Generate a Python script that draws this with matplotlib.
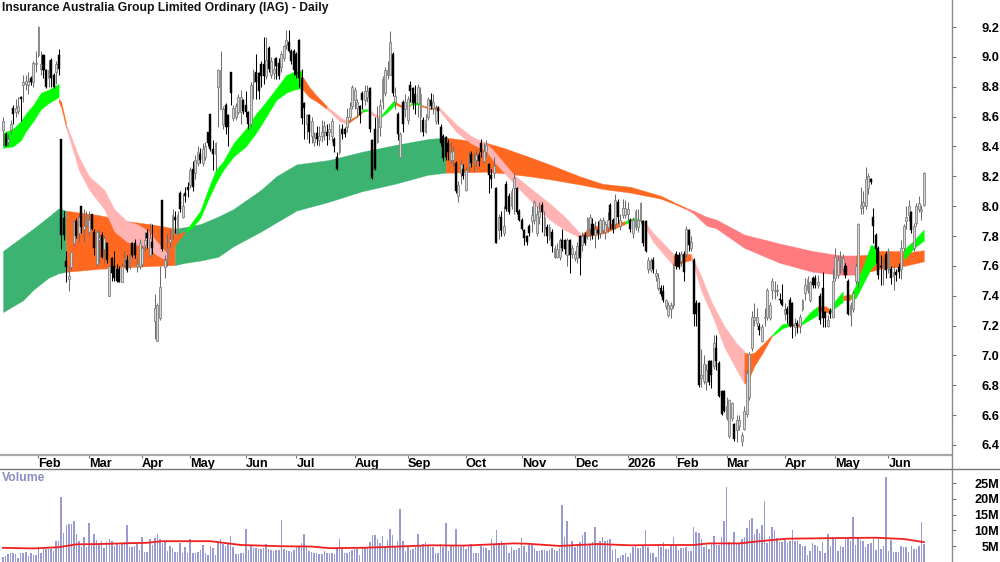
#!/usr/bin/env python3
"""Daily candlestick chart for IAG with MMA ribbons and a volume panel."""

import matplotlib
matplotlib.use('Agg')
import matplotlib.pyplot as plt
from matplotlib.lines import Line2D
import numpy as np

plt.rcParams['font.family'] = ['Liberation Sans', 'DejaVu Sans']

TITLE = 'Insurance Australia Group Limited Ordinary (IAG) - Daily'

month_labels = ['Feb', 'Mar', 'Apr', 'May', 'Jun', 'Jul', 'Aug', 'Sep', 'Oct', 'Nov', 'Dec',
	'2026', 'Feb', 'Mar', 'Apr', 'May', 'Jun']
month_bars = [14, 34, 55, 74, 96, 116, 139, 160, 183, 205, 226, 247, 266, 286, 309, 329, 350]

price_ticks = [6.4, 6.6, 6.8, 7.0, 7.2, 7.4, 7.6, 7.8, 8.0, 8.2, 8.4, 8.6, 8.8, 9.0, 9.2]
volume_ticks = [5, 10, 15, 20, 25]
volume_tick_labels = ['5M', '10M', '15M', '20M', '25M']

opens = [
	8.51,8.48,8.43,8.51,8.66,8.63,8.64,8.73,8.81,8.82,
	8.81,8.86,8.83,8.95,9.01,8.92,9.01,8.91,8.86,8.98,
	8.88,8.90,9.01,8.45,7.92,7.63,7.51,7.59,7.75,7.90,
	7.82,8.0,7.85,7.88,7.83,7.95,7.83,7.61,7.77,7.81,
	7.71,7.75,7.40,7.65,7.60,7.58,7.58,7.49,7.61,7.64,
	7.59,7.75,7.75,7.60,7.60,7.61,7.74,7.82,7.67,7.76,
	7.23,7.10,7.25,8.04,7.59,7.64,7.76,7.82,7.93,7.83,
	8.09,7.93,8.09,8.13,8.14,8.25,8.22,8.29,8.35,8.29,
	8.33,8.50,8.62,8.38,8.35,8.80,8.65,8.55,8.68,8.61,
	8.90,8.59,8.60,8.63,8.63,8.71,8.68,8.63,8.55,8.83,
	8.90,8.89,8.95,8.95,8.87,9.06,8.88,8.89,8.99,8.96,
	8.93,8.99,9.08,9.10,9.04,9.04,9.02,9.11,8.86,8.69,
	8.55,8.61,8.47,8.43,8.49,8.44,8.47,8.50,8.50,8.50,
	8.47,8.45,8.33,8.36,8.52,8.52,8.53,8.60,8.67,8.71,
	8.66,8.67,8.76,8.71,8.73,8.79,8.44,8.52,8.43,8.53,
	8.70,8.76,8.88,8.88,9.02,8.70,8.62,8.33,8.70,8.65,
	8.58,8.81,8.79,8.75,8.69,8.60,8.58,8.50,8.60,8.71,
	8.66,8.57,8.66,8.53,8.47,8.46,8.42,8.31,8.31,8.29,
	8.07,8.22,8.25,8.11,8.27,8.35,8.28,8.31,8.34,8.42,
	8.30,8.36,8.28,8.21,8.22,8.12,7.84,7.93,7.82,8.15,
	8.07,8.0,8.12,8.12,7.97,7.91,7.84,7.80,7.87,7.90,
	7.91,7.82,7.93,8.01,7.85,7.86,7.79,7.83,7.66,7.66,
	7.66,7.77,7.77,7.67,7.77,7.68,7.65,7.65,7.80,7.74,
	7.81,7.80,7.85,7.88,7.81,7.84,7.82,7.84,7.83,7.86,
	8.01,7.91,7.88,8.03,7.87,7.94,7.94,7.95,7.91,7.82,
	7.86,7.86,7.91,7.90,7.90,7.58,7.57,7.64,7.53,7.45,
	7.45,7.43,7.33,7.27,7.31,7.34,7.68,7.67,7.63,7.68,
	7.68,7.84,7.72,7.64,7.35,7.35,6.85,6.83,6.82,6.96,
	6.96,6.93,7.05,6.95,6.76,6.76,6.58,6.46,6.58,6.54,
	6.50,6.53,6.43,6.51,6.61,6.72,7.05,7.24,7.22,7.20,
	7.10,7.25,7.26,7.25,7.44,7.43,7.43,7.38,7.37,7.28,
	7.31,7.37,7.35,7.19,7.22,7.20,7.31,7.42,7.44,7.37,
	7.52,7.52,7.47,7.40,7.45,7.29,7.20,7.30,7.26,7.52,
	7.54,7.62,7.58,7.60,7.50,7.27,7.31,7.50,7.50,7.99,
	8.0,8.0,8.12,8.18,7.93,7.81,7.72,7.60,7.58,7.68,
	7.58,7.58,7.53,7.56,7.59,7.58,7.72,7.90,7.94,7.96,
	7.72,7.89,7.98,7.97,8.01,
]
closes = [
	8.57,8.40,8.45,8.55,8.62,8.66,8.67,8.72,8.83,8.84,
	8.84,8.83,8.96,8.96,9.2,8.95,8.91,8.80,8.91,8.86,
	8.80,8.95,8.92,7.81,7.81,7.59,7.53,7.69,7.90,7.80,
	7.93,7.86,7.87,7.91,7.91,7.85,7.72,7.83,7.79,7.66,
	7.79,7.64,7.60,7.55,7.52,7.50,7.49,7.60,7.65,7.57,
	7.67,7.67,7.67,7.61,7.75,7.72,7.77,7.79,7.79,7.72,
	7.32,7.34,7.46,7.71,7.64,7.72,7.78,7.94,7.91,7.94,
	7.98,8.0,8.07,8.11,8.24,8.13,8.31,8.36,8.31,8.38,
	8.40,8.42,8.38,8.35,8.42,8.91,8.91,8.65,8.53,8.53,
	8.76,8.66,8.67,8.73,8.73,8.64,8.63,8.55,8.81,8.89,
	8.83,8.77,8.87,8.87,8.98,8.92,8.97,8.92,8.94,8.87,
	9.02,9.07,9.11,9.04,8.97,8.91,8.88,8.86,8.59,8.66,
	8.61,8.50,8.57,8.46,8.45,8.47,8.50,8.54,8.47,8.52,
	8.57,8.40,8.25,8.48,8.48,8.48,8.60,8.66,8.80,8.78,
	8.70,8.61,8.71,8.77,8.77,8.52,8.19,8.25,8.59,8.68,
	8.85,8.91,8.91,9.10,8.76,8.74,8.48,8.48,8.55,8.70,
	8.72,8.77,8.69,8.69,8.80,8.75,8.50,8.58,8.72,8.67,
	8.70,8.66,8.64,8.42,8.32,8.33,8.36,8.36,8.37,8.10,
	8.14,8.28,8.20,8.24,8.32,8.29,8.31,8.34,8.30,8.36,
	8.37,8.41,8.21,8.18,8.27,7.75,7.93,7.84,7.87,7.98,
	7.96,8.10,8.19,7.96,7.91,7.85,7.79,7.76,7.82,7.94,
	8.03,7.95,7.97,7.96,7.93,7.80,7.86,7.73,7.72,7.71,
	7.77,7.72,7.71,7.77,7.67,7.72,7.68,7.73,7.65,7.80,
	7.75,7.92,7.93,7.81,7.85,7.82,7.91,7.91,7.88,7.91,
	7.91,7.85,8.04,7.93,7.91,7.99,7.99,7.98,7.85,7.91,
	7.97,7.91,8.02,7.75,7.70,7.64,7.63,7.58,7.55,7.52,
	7.41,7.37,7.37,7.34,7.34,7.60,7.60,7.59,7.68,7.56,
	7.85,7.74,7.76,7.28,7.28,6.80,6.87,6.94,6.90,6.82,
	6.87,7.08,6.96,6.73,6.61,6.63,6.66,6.70,6.68,6.44,
	6.57,6.57,6.47,6.63,6.88,7.01,7.26,7.26,7.26,7.17,
	7.19,7.26,7.44,7.34,7.50,7.44,7.44,7.37,7.34,7.31,
	7.28,7.20,7.20,7.22,7.20,7.26,7.37,7.47,7.51,7.49,
	7.47,7.47,7.49,7.24,7.25,7.25,7.24,7.28,7.50,7.66,
	7.64,7.66,7.65,7.54,7.28,7.34,7.42,7.60,7.88,8.01,
	8.03,8.18,8.20,8.16,7.87,7.71,7.54,7.59,7.60,7.57,
	7.70,7.52,7.56,7.54,7.56,7.72,7.87,7.93,8.0,7.84,
	7.87,8.0,8.02,7.98,8.22,
]
highs = [
	8.60,8.50,8.48,8.58,8.68,8.72,8.73,8.74,8.88,8.88,
	8.90,8.87,8.97,9.04,9.21,9.04,9.02,8.92,8.98,8.99,
	8.89,8.97,9.05,8.45,7.97,7.70,7.60,7.70,7.91,7.92,
	7.95,8.0,7.98,7.97,7.97,7.95,7.85,7.84,7.84,7.83,
	7.80,7.76,7.60,7.66,7.70,7.61,7.60,7.62,7.70,7.67,
	7.68,7.76,7.78,7.66,7.78,7.74,7.83,7.85,7.89,7.88,
	7.41,7.35,7.60,8.04,7.67,7.82,7.85,7.98,7.97,7.97,
	8.10,8.08,8.13,8.16,8.26,8.30,8.34,8.40,8.39,8.42,
	8.43,8.50,8.62,8.44,8.43,8.92,9.04,8.67,8.69,8.62,
	8.90,8.68,8.69,8.75,8.78,8.72,8.77,8.64,8.83,8.92,
	9.02,8.90,8.97,9.13,9.13,9.07,9.0,8.99,9.0,8.99,
	9.04,9.08,9.18,9.18,9.05,9.05,9.03,9.12,8.92,8.70,
	8.62,8.62,8.60,8.50,8.54,8.54,8.58,8.57,8.55,8.56,
	8.59,8.46,8.36,8.55,8.55,8.53,8.66,8.70,8.81,8.80,
	8.72,8.68,8.77,8.81,8.81,8.80,8.45,8.60,8.67,8.72,
	8.87,8.93,8.97,9.17,9.03,8.80,8.63,8.50,8.71,8.75,
	8.74,8.84,8.80,8.81,8.82,8.80,8.60,8.62,8.73,8.76,
	8.75,8.68,8.67,8.55,8.48,8.47,8.45,8.43,8.40,8.30,
	8.17,8.31,8.28,8.26,8.37,8.37,8.36,8.38,8.36,8.45,
	8.42,8.44,8.29,8.25,8.33,8.13,7.95,7.97,8.0,8.17,
	8.09,8.12,8.22,8.13,7.98,7.92,7.85,7.81,7.88,8.0,
	8.04,8.0,8.03,8.03,7.97,7.88,7.88,7.85,7.74,7.75,
	7.79,7.85,7.78,7.79,7.78,7.74,7.70,7.76,7.81,7.83,
	7.83,7.93,7.95,7.92,7.90,7.90,7.92,7.93,7.90,7.96,
	8.02,7.92,8.08,8.05,7.95,8.05,8.04,8.03,7.92,7.93,
	7.98,7.98,8.03,7.91,7.91,7.66,7.65,7.66,7.58,7.55,
	7.47,7.47,7.38,7.36,7.36,7.62,7.70,7.69,7.70,7.70,
	7.87,7.85,7.80,7.65,7.37,7.36,7.04,7.0,6.94,6.97,
	6.97,7.14,7.14,6.96,6.77,6.77,6.72,6.71,6.69,6.55,
	6.60,6.60,6.49,6.66,6.90,7.02,7.30,7.35,7.32,7.22,
	7.21,7.32,7.45,7.36,7.52,7.50,7.48,7.42,7.48,7.35,
	7.33,7.39,7.36,7.25,7.24,7.28,7.38,7.52,7.53,7.50,
	7.53,7.54,7.54,7.42,7.56,7.30,7.27,7.32,7.58,7.72,
	7.67,7.70,7.68,7.62,7.51,7.36,7.44,7.62,7.89,8.13,
	8.10,8.26,8.22,8.19,7.99,7.82,7.73,7.67,7.66,7.70,
	7.72,7.60,7.60,7.58,7.62,7.77,7.88,8.0,8.04,7.97,
	7.89,8.02,8.07,8.01,8.23,
]
lows = [
	8.40,8.40,8.40,8.48,8.55,8.60,8.62,8.57,8.70,8.78,
	8.75,8.81,8.80,8.90,9.0,8.88,8.86,8.79,8.80,8.80,
	8.79,8.82,8.88,7.71,7.77,7.49,7.43,7.57,7.73,7.79,
	7.76,7.82,7.76,7.86,7.81,7.84,7.67,7.60,7.62,7.65,
	7.62,7.62,7.40,7.50,7.50,7.49,7.49,7.49,7.60,7.56,
	7.58,7.66,7.65,7.56,7.58,7.60,7.70,7.72,7.66,7.68,
	7.11,7.10,7.24,7.70,7.52,7.60,7.72,7.78,7.82,7.81,
	7.96,7.92,8.03,8.06,8.12,8.10,8.18,8.27,8.29,8.27,
	8.31,8.40,8.37,8.24,8.24,8.53,8.65,8.52,8.48,8.40,
	8.68,8.57,8.58,8.62,8.55,8.62,8.60,8.52,8.53,8.72,
	8.72,8.72,8.80,8.82,8.85,8.90,8.86,8.85,8.85,8.85,
	8.90,8.97,9.05,9.03,8.95,8.88,8.86,8.80,8.55,8.45,
	8.45,8.42,8.42,8.40,8.41,8.40,8.43,8.44,8.41,8.44,
	8.43,8.36,8.24,8.35,8.45,8.46,8.50,8.57,8.65,8.65,
	8.60,8.56,8.65,8.68,8.70,8.50,8.18,8.24,8.42,8.47,
	8.65,8.74,8.85,8.88,8.74,8.65,8.44,8.33,8.50,8.60,
	8.55,8.70,8.65,8.62,8.60,8.50,8.47,8.49,8.58,8.65,
	8.62,8.55,8.55,8.40,8.30,8.31,8.31,8.29,8.27,8.09,
	8.03,8.15,8.18,8.10,8.23,8.26,8.23,8.27,8.27,8.33,
	8.29,8.33,8.09,8.12,8.19,7.75,7.78,7.80,7.80,7.97,
	7.95,7.98,7.95,7.95,7.90,7.84,7.74,7.74,7.80,7.83,
	7.88,7.80,7.88,7.83,7.80,7.75,7.77,7.69,7.65,7.65,
	7.64,7.70,7.68,7.60,7.55,7.65,7.63,7.62,7.54,7.70,
	7.74,7.78,7.77,7.78,7.72,7.78,7.79,7.82,7.78,7.83,
	7.85,7.82,7.85,7.89,7.84,7.92,7.92,7.91,7.83,7.79,
	7.84,7.83,7.88,7.73,7.69,7.55,7.56,7.55,7.50,7.44,
	7.40,7.36,7.31,7.26,7.25,7.32,7.58,7.58,7.60,7.50,
	7.66,7.70,7.70,7.20,7.20,6.79,6.79,6.81,6.77,6.80,
	6.78,6.91,6.90,6.72,6.60,6.62,6.57,6.45,6.56,6.43,
	6.42,6.50,6.39,6.50,6.59,6.70,7.03,7.20,7.20,7.14,
	7.09,7.20,7.24,7.24,7.38,7.38,7.40,7.35,7.33,7.24,
	7.22,7.19,7.12,7.13,7.15,7.15,7.30,7.37,7.42,7.36,
	7.45,7.45,7.45,7.21,7.19,7.19,7.19,7.25,7.25,7.50,
	7.52,7.55,7.56,7.52,7.27,7.20,7.29,7.48,7.45,7.95,
	7.95,7.98,8.08,8.15,7.75,7.62,7.51,7.47,7.47,7.52,
	7.55,7.48,7.44,7.50,7.52,7.51,7.70,7.85,7.90,7.82,
	7.70,7.87,7.96,7.91,8.0,
]

# Volume in millions
volumes = [
	1.5,1.8,2.4,3,3,2.4,1.4,3,3,3.2,2,3,2.2,2.2,4.8,3,4.5,4,4.2,4,3.5,6.8,6.8,
	20.5,9.3,11.7,12.2,12.2,13,9,6.7,5,8,
	4.6,12.3,6,8.8,7,5.7,6.7,4.3,6.4,7.2,
	6.7,5,6,5.4,6.1,6.3,11.7,4.9,4.9,5,
	5.6,3.8,8,3.3,3.3,7.3,5.4,7.5,8.8,7.3,
	6,6.8,3.6,5,4.3,3.3,3.3,6.1,3,4.7,
	3,7.2,2.8,2.8,3.3,3.8,5.4,2.8,2.2,5,
	4.3,2.2,6,7.2,5.6,5,6.1,8.1,4.7,2.4,
	2.4,3,2.8,10.6,3.8,5.4,4.5,4.5,4,4,
	4.3,5.6,4.2,3.7,3.5,3.7,3.7,13.3,4,3.7,
	3.5,3.2,3.8,4.9,4.9,6,8.9,4.7,3.5,3.2,
	3,2.8,2.5,2.5,3.6,2.8,2.8,
	3,2.4,4.5,7.2,4.3,3,2.8,3.3,3.8,4.1,
	4.1,2.3,4.3,4.3,4.7,6.5,8.6,8.5,7.2,6.1,
	8.1,4.7,7,10.5,8.5,5,6.8,16.8,6.8,3.5,
	4.9,3.8,4,4.9,8.9,5.4,5.7,6.3,5,4.7,
	4.7,3,3,5.7,4.7,12.4,3.6,5.3,5.4,10.5,
	4.7,4.7,5,4,5,5.7,2.8,2.8,3,5,
	4.9,4.4,3.8,7.2,5.7,10,5.9,6.7,5.3,5.5,
	3,4.7,3.8,3.8,4.5,7.5,5,3.3,5.3,5.3,
	4.3,3.5,3.6,3.7,3.8,3.5,3.8,4.5,3.8,3.5,
	4.3,18.1,7.8,13,5,6.7,4.7,5.7,6.5,8.6,
	9.5,5.4,5.4,6.2,11.2,5.9,6.7,7.9,6.8,7.1,
	7.2,3.8,4,1.2,1.8,2.2,2.8,1.7,3,4.7,
	5.4,4.5,4.5,5.4,10,4.7,2.8,2.8,1.5,5.7,4.9,
	6.2,4,4,5,7.8,5,3.8,4.4,4.4,4.7,
	3.6,3.6,11,9.6,9.2,7.4,4.9,5.3,4.2,5.9,
	8.1,5.3,5.4,8,13,23.9,6.3,5.9,9.5,6.1,
	5.9,7.3,7.8,10.8,13.3,13.9,8.9,10.5,9.1,11.7,
	19.4,6.1,8.1,11,10.2,7.5,6.5,6.3,7,5.9,
	6.7,10.3,6.7,6.6,5.7,5,5,2.2,3.6,5.9,
	5.4,5,3.5,6.3,3,8.8,5,7.9,7.2,3.6,
	5,4.7,7.4,7.2,6.8,14.4,5.3,7.9,6.9,6.7,
	4.7,5.7,6.1,7.3,3.8,7.2,4,5,26.9,3.6,
	6.9,3.3,3.2,3.2,5,4.7,4.7,3.3,5,4.1,
	4.1,5,12.6,5.7,
]

# Volume average line
vol_avg_bars = [0, 12, 22, 29, 38, 47, 57, 63, 82, 94, 110, 122, 129, 142, 156, 169, 182, 202, 207,
	220, 235, 248, 261, 273, 279, 291, 299, 310, 331, 345, 356, 364]
vol_avg = [4.5, 4.3, 4.7, 5.6, 5.7, 5.9, 6.1, 6.6, 6.6, 5.4, 5, 4.9, 4.4, 4.5, 4.9, 5.3, 5.2, 5.9, 5.8,
	5.1, 5.7, 5.3, 5.4, 5.4, 5.9, 5.9, 6.6, 7.4, 7.6, 7.7, 7.3, 6.3]

# Long term ribbon: bar, top, bottom, state
slow_bars = [0, 8, 12, 18, 22, 25,
	25, 38, 49, 60, 68,
	68, 72, 78, 85, 91, 102, 108, 116, 129, 142, 155, 168, 175,
	175, 191, 198, 208, 216, 228, 237, 248, 254, 260, 266, 270,
	270, 273, 278, 282, 293, 307, 320, 331, 337,
	337, 347, 355, 364]
slow_top = [7.70, 7.80, 7.85, 7.93, 7.985, 7.97,
	7.97, 7.94, 7.90, 7.875, 7.85,
	7.85, 7.86, 7.88, 7.93, 7.98, 8.11, 8.20, 8.28, 8.31, 8.365, 8.41, 8.45, 8.46,
	8.46, 8.425, 8.39, 8.33, 8.28, 8.20, 8.15, 8.13, 8.10, 8.07, 8.02, 7.99,
	7.99, 7.97, 7.93, 7.91, 7.81, 7.75, 7.70, 7.67, 7.67,
	7.67, 7.68, 7.685, 7.705]
slow_bottom = [7.29, 7.37, 7.44, 7.52, 7.55, 7.56,
	7.56, 7.58, 7.59, 7.60, 7.605,
	7.605, 7.62, 7.635, 7.66, 7.73, 7.83, 7.89, 7.97, 8.03, 8.10, 8.15, 8.21, 8.224,
	8.224, 8.23, 8.22, 8.20, 8.18, 8.145, 8.115, 8.09, 8.07, 8.05, 8.01, 7.98,
	7.98, 7.95, 7.87, 7.85, 7.72, 7.62, 7.56, 7.54, 7.54,
	7.54, 7.58, 7.595, 7.63]
slow_state = ['up'] * 6 + ['mixed'] * 5 + ['up'] * 13 + ['mixed'] * 12 + ['down'] * 9 + ['mixed'] * 4

# Short term ribbon: bar, top, bottom, state
fast_bars = [0, 4, 7, 9, 12, 15, 18, 22,
	22, 23, 25,
	25, 30, 34, 40, 44, 49, 53, 57, 60, 63, 65,
	65, 68, 72,
	72, 75, 78, 81, 84, 87, 91, 96, 100, 103, 108, 112, 115, 118,
	118, 121, 124, 128,
	128, 133, 136,
	136, 140, 142,
	142, 144,
	144, 146, 149,
	149, 152, 155,
	155, 158, 161,
	161, 165,
	165, 169, 172,
	172, 179, 185, 191, 194, 202, 210, 216, 222, 228,
	228, 232, 238, 243, 246,
	246, 249, 252,
	252, 253, 257, 260, 265,
	265, 270, 272,
	272, 273, 276, 280, 285, 290, 293,
	293, 295, 297, 300, 304,
	304, 308, 311,
	311, 315,
	315, 319, 322,
	322, 325, 327,
	327, 329, 332,
	332, 335,
	335, 337, 340, 343, 345,
	345, 350, 356,
	356, 360, 364]
fast_top = [8.49, 8.52, 8.57, 8.62, 8.68, 8.76, 8.78, 8.82,
	8.72, 8.70, 8.55,
	8.55, 8.33, 8.20, 8.11, 7.98, 7.90, 7.88, 7.84, 7.78, 7.72, 7.68,
	7.66, 7.81, 7.83,
	7.83, 7.90, 7.97, 8.11, 8.24, 8.30, 8.42, 8.52, 8.62, 8.68, 8.79, 8.88, 8.90, 8.91,
	8.88, 8.80, 8.74, 8.67,
	8.67, 8.60, 8.57,
	8.57, 8.61, 8.64,
	8.65, 8.65,
	8.65, 8.63, 8.60,
	8.60, 8.66, 8.72,
	8.70, 8.67, 8.68,
	8.69, 8.70,
	8.68, 8.66, 8.67,
	8.67, 8.55, 8.47, 8.42, 8.37, 8.21, 8.10, 8.02, 7.93, 7.82,
	7.80, 7.86, 7.88, 7.89, 7.90,
	7.90, 7.92, 7.91,
	7.91, 7.91, 7.82, 7.77, 7.68,
	7.67, 7.68, 7.68,
	7.68, 7.64, 7.53, 7.36, 7.20, 7.08, 7.03,
	7.02, 7.01, 7.02, 7.07, 7.14,
	7.14, 7.21, 7.22,
	7.21, 7.21,
	7.21, 7.29, 7.33,
	7.33, 7.33, 7.31,
	7.30, 7.37, 7.43,
	7.40, 7.41,
	7.40, 7.47, 7.60, 7.74, 7.73,
	7.70, 7.70, 7.70,
	7.71, 7.77, 7.845]
fast_bottom = [8.39, 8.40, 8.44, 8.50, 8.57, 8.65, 8.69, 8.73,
	8.70, 8.66, 8.52,
	8.52, 8.24, 8.11, 7.98, 7.83, 7.76, 7.74, 7.73, 7.68, 7.65, 7.65,
	7.65, 7.74, 7.83,
	7.83, 7.86, 7.92, 8.04, 8.15, 8.24, 8.33, 8.40, 8.49, 8.57, 8.71, 8.76, 8.78, 8.79,
	8.79, 8.73, 8.70, 8.65,
	8.65, 8.57, 8.55,
	8.55, 8.60, 8.63,
	8.63, 8.64,
	8.64, 8.61, 8.58,
	8.59, 8.63, 8.68,
	8.68, 8.66, 8.67,
	8.68, 8.68,
	8.67, 8.65, 8.65,
	8.65, 8.50, 8.42, 8.37, 8.30, 8.15, 8.01, 7.91, 7.84, 7.79,
	7.79, 7.80, 7.82, 7.86, 7.88,
	7.88, 7.91, 7.90,
	7.90, 7.88, 7.76, 7.70, 7.60,
	7.60, 7.63, 7.64,
	7.64, 7.60, 7.43, 7.28, 7.06, 6.90, 6.81,
	6.81, 6.85, 6.93, 7.01, 7.13,
	7.13, 7.18, 7.20,
	7.20, 7.19,
	7.20, 7.24, 7.27,
	7.30, 7.29, 7.29,
	7.29, 7.32, 7.36,
	7.37, 7.37,
	7.38, 7.38, 7.48, 7.58, 7.62,
	7.60, 7.60, 7.64,
	7.64, 7.717, 7.77]
fast_state = (['up'] * 8 + ['mixed'] * 3 + ['down'] * 11 + ['mixed'] * 3 + ['up'] * 14
	+ ['mixed'] * 4 + ['down'] * 3 + ['mixed'] * 3 + ['up'] * 2 + ['down'] * 3
	+ ['up'] * 3 + ['mixed'] * 3 + ['up'] * 2 + ['mixed'] * 3 + ['down'] * 10
	+ ['mixed'] * 5 + ['up'] * 3 + ['down'] * 5 + ['mixed'] * 3 + ['down'] * 7
	+ ['mixed'] * 5 + ['up'] * 3 + ['mixed'] * 2 + ['up'] * 3 + ['mixed'] * 3
	+ ['up'] * 3 + ['mixed'] * 2 + ['up'] * 5 + ['mixed'] * 3 + ['up'] * 3)

SLOW_COLORS = {'up': '#3cb371', 'mixed': '#ff6820', 'down': '#ff7b7f'}
FAST_COLORS = {'up': '#00ff00', 'mixed': '#ff6820', 'down': '#ffb3b3'}


def draw_ribbon(ax, bars, top, bottom, states, colors):
	"""Fill the band, one polygon per run of the same state."""
	bars, top, bottom = np.array(bars), np.array(top), np.array(bottom)
	start = 0
	for i in range(1, len(bars) + 1):
		if i == len(bars) or states[i] != states[start]:
			ax.fill_between(bars[start:i], bottom[start:i], top[start:i],
				color=colors[states[start]], linewidth=0.2, zorder=2)
			start = i


def draw_candles(ax):
	o, c, h, l = map(np.array, (opens, closes, highs, lows))
	x = np.arange(len(o))
	up = c >= o
	ax.vlines(x[up], l[up], h[up], color='#6e6e6e', linewidth=0.75, zorder=3)
	ax.vlines(x[~up], l[~up], h[~up], color='#000000', linewidth=0.75, zorder=3)
	ax.bar(x[up], (c - o)[up], bottom=o[up], width=0.72, facecolor='#d6d6d6',
		edgecolor='#808080', linewidth=0.6, zorder=4)
	ax.bar(x[~up], (o - c)[~up], bottom=c[~up], width=0.8, facecolor='#000000',
		edgecolor='#000000', linewidth=0.3, zorder=4)


fig = plt.figure(figsize=(10, 5.62), dpi=100)
FIG_W, FIG_H = 1000.0, 562.0

# Price panel runs from the top down to y=455, volume from y=469 to the bottom
ax = fig.add_axes([0, (FIG_H - 455) / FIG_H, 952 / FIG_W, 455 / FIG_H])
ax_vol = fig.add_axes([0, 0, 952 / FIG_W, (FIG_H - 469) / FIG_H])

draw_ribbon(ax, slow_bars, slow_top, slow_bottom, slow_state, SLOW_COLORS)
draw_ribbon(ax, fast_bars, fast_top, fast_bottom, fast_state, FAST_COLORS)
draw_candles(ax)

ax.set_xlim(-1.19, 375.1)
ax.set_ylim(6.333, 9.381)
ax.yaxis.tick_right()
ax.set_yticks(price_ticks)
ax.set_yticklabels([f'{t:.1f}' for t in price_ticks], ha='right', fontweight='bold', fontsize=9.2)
ax.tick_params(axis='y', length=3, width=0.8, color='#777777', pad=31)
ax.set_xticks(month_bars)
ax.set_xticklabels(month_labels, ha='left', fontweight='bold', fontsize=9.2)
ax.tick_params(axis='x', length=2.5, width=0.8, color='#777777', pad=-0.5)
for lab in ax.get_xticklabels():
	lab.set_x(lab.get_position()[0])
for side in ('top', 'left', 'right'):
	ax.spines[side].set_visible(False)
ax.spines['bottom'].set_color('#a8a8a8')
ax.spines['bottom'].set_linewidth(1.6)
ax.text(2 / 952, 1 - 8 / 455, TITLE, transform=ax.transAxes, fontsize=8.7, fontweight='bold',
	va='center', ha='left', color='#111111')

ax_vol.bar(np.arange(len(volumes)), volumes, width=0.6, color='#9a9ad2', linewidth=0, zorder=2)
ax_vol.plot(vol_avg_bars, vol_avg, color='#f02020', linewidth=1.3, zorder=3)
ax_vol.set_xlim(-1.19, 375.1)
ax_vol.set_ylim(0, 29.5)
ax_vol.set_xticks([])
ax_vol.yaxis.tick_right()
ax_vol.set_yticks(volume_ticks)
ax_vol.set_yticklabels(volume_tick_labels, ha='right', fontweight='bold', fontsize=9.2)
ax_vol.tick_params(axis='y', length=3, width=0.8, color='#777777', pad=31)
for side in ('top', 'left', 'right', 'bottom'):
	ax_vol.spines[side].set_visible(False)
ax_vol.text(2 / 952, 1 - 9 / 93, 'Volume', transform=ax_vol.transAxes, fontsize=8.7, fontweight='bold',
	va='center', ha='left', color='#8c8cc0')

# Panel separator and the right hand axis line
fig.add_artist(Line2D([0, 1], [(FIG_H - 469) / FIG_H] * 2, color='#777777', linewidth=1.0))
fig.add_artist(Line2D([952 / FIG_W] * 2, [0, 1], color='#8a8a8a', linewidth=1.0))

fig.savefig('out.png', dpi=100)
plt.close(fig)
